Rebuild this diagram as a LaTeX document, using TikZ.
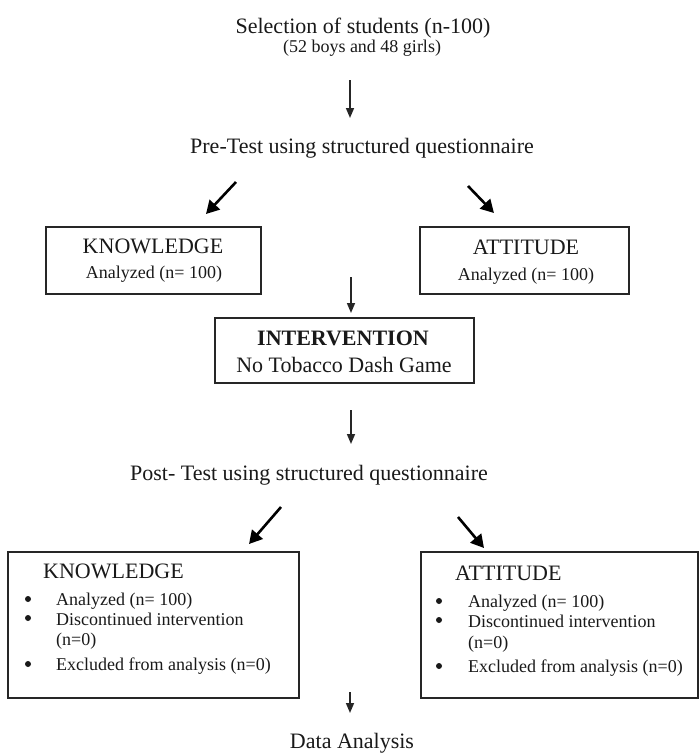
\documentclass[tikz,border=0pt]{standalone}
\usepackage{fontspec}
\setmainfont{Liberation Serif}
\usetikzlibrary{arrows.meta}
\begin{document}
\begin{tikzpicture}[x=1pt,y=-1pt,
  big/.style={font=\fontsize{22}{24}\selectfont, inner sep=0pt, text=black!90},
  small/.style={font=\fontsize{18}{20}\selectfont, inner sep=0pt, text=black!90},
  boxnode/.style={draw=black!85, line width=1.3pt, rectangle, inner sep=0pt},
  varrow/.style={draw=black!85, line width=1.5pt, -{Triangle[length=10pt,width=8pt]}},
  darrow/.style={draw=black, line width=2.6pt, -{Triangle[length=13pt,width=14pt]}},
  dotb/.style={circle, fill=black!90, inner sep=0pt, minimum size=6pt}
]
\useasboundingbox (0,0) rectangle (700,753);
% boxes
\node[boxnode, minimum width=215pt, minimum height=67pt] (kbox) at (153.5,260.5) {};
\node[boxnode, minimum width=209pt, minimum height=67pt] (abox) at (524.5,260.5) {};
\node[boxnode, minimum width=259pt, minimum height=65pt] (ibox) at (344.5,350.5) {};
\node[boxnode, minimum width=291pt, minimum height=146pt] (kbox2) at (153.5,625) {};
\node[boxnode, minimum width=277pt, minimum height=146pt] (abox2) at (559.5,625) {};
% texts
\node[big, anchor=base] (sel) at (363,33) {Selection of students (n-100)};
\node[small, anchor=base] (sel2) at (362,52) {(52 boys and 48 girls)};
\node[big, anchor=base] (pre) at (362,153) {Pre-Test using structured questionnaire};
\node[big, anchor=base] (k1) at (153,253) {KNOWLEDGE};
\node[small, anchor=base] (k1a) at (154,278) {Analyzed (n= 100)};
\node[big, anchor=base] (a1) at (526,254) {ATTITUDE};
\node[small, anchor=base] (a1a) at (526,280) {Analyzed (n= 100)};
\node[big, anchor=base] (int1) at (343,345) {\textbf{INTERVENTION}};
\node[big, anchor=base] (int2) at (344,372) {No Tobacco Dash Game};
\node[big, anchor=base] (post) at (309,480) {Post- Test using structured questionnaire};
% bottom left list
\node[big, anchor=base west] (k2) at (43,578) {KNOWLEDGE};
\node[small, anchor=base west] (k2a) at (56,605) {Analyzed (n= 100)};
\node[small, anchor=base west] (k2b) at (56,625) {Discontinued intervention};
\node[small, anchor=base west] (k2c) at (56,645) {(n=0)};
\node[small, anchor=base west] (k2d) at (56,670) {Excluded from analysis (n=0)};
\node[dotb] (kd1) at (28,599) {};
\node[dotb] (kd2) at (28,618) {};
\node[dotb] (kd3) at (28,664) {};
% bottom right list
\node[big, anchor=base west] (a2) at (455,580) {ATTITUDE};
\node[small, anchor=base west] (a2a) at (468,607) {Analyzed (n= 100)};
\node[small, anchor=base west] (a2b) at (468,627) {Discontinued intervention};
\node[small, anchor=base west] (a2c) at (468,648) {(n=0)};
\node[small, anchor=base west] (a2d) at (468,672) {Excluded from analysis (n=0)};
\node[dotb] (ad1) at (439,601) {};
\node[dotb] (ad2) at (439,620) {};
\node[dotb] (ad3) at (439,666) {};
\node[big, anchor=base] (data) at (352,748) {Data Analysis};
% arrow coordinates
\coordinate (v1s) at (350,80);  \coordinate (v1e) at (350,118);
\coordinate (v2s) at (351,277); \coordinate (v2e) at (351,313);
\coordinate (v3s) at (351,410); \coordinate (v3e) at (351,444);
\coordinate (v4s) at (350,692); \coordinate (v4e) at (350,713);
\coordinate (d1s) at (236,182); \coordinate (d1e) at (206,214);
\coordinate (d2s) at (468,186); \coordinate (d2e) at (494,213);
\coordinate (d3s) at (281,507); \coordinate (d3e) at (249,544);
\coordinate (d4s) at (458,517); \coordinate (d4e) at (484,548);
\draw[varrow] (v1s) -- (v1e);
\draw[varrow] (v2s) -- (v2e);
\draw[varrow] (v3s) -- (v3e);
\draw[varrow] (v4s) -- (v4e);
\draw[darrow] (d1s) -- (d1e);
\draw[darrow] (d2s) -- (d2e);
\draw[darrow] (d3s) -- (d3e);
\draw[darrow] (d4s) -- (d4e);
\end{tikzpicture}
\end{document}
